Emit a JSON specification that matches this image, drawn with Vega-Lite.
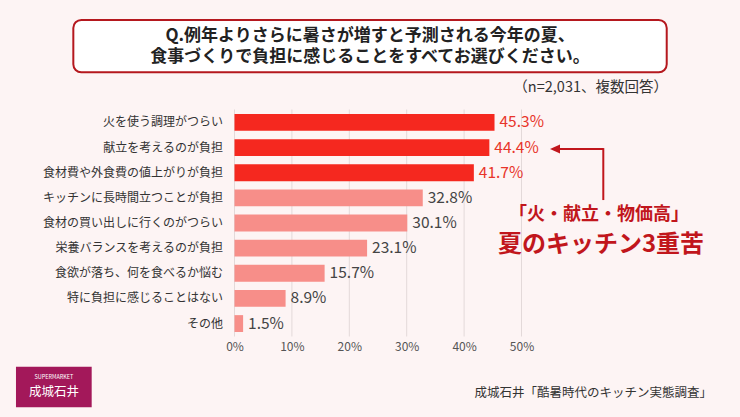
{
  "$schema": "https://vega.github.io/schema/vega-lite/v6.json",
  "width": 287,
  "height": 227,
  "autosize": {"type": "none"},
  "padding": {"left": 234.5, "top": 109.5, "right": 218.5, "bottom": 80.5},
  "background": "#fdf4f4",
  "config": {
    "view": {"stroke": null},
    "font": "Noto Sans CJK JP",
    "text": {"font": "Noto Sans CJK JP"},
    "axis": {"labelFont": "Noto Sans CJK JP"}
  },
  "datasets": {
    "answers": [
      {"item": "火を使う調理がつらい", "share": 0.453},
      {"item": "献立を考えるのが負担", "share": 0.444},
      {"item": "食材費や外食費の値上がりが負担", "share": 0.417},
      {"item": "キッチンに長時間立つことが負担", "share": 0.328},
      {"item": "食材の買い出しに行くのがつらい", "share": 0.301},
      {"item": "栄養バランスを考えるのが負担", "share": 0.231},
      {"item": "食欲が落ち、何を食べるか悩む", "share": 0.157},
      {"item": "特に負担に感じることはない", "share": 0.089},
      {"item": "その他", "share": 0.015}
    ],
    "gridlines": [
      {"tick": 0}, {"tick": 0.1}, {"tick": 0.2}, {"tick": 0.3}, {"tick": 0.4}, {"tick": 0.5}
    ]
  },
  "layer": [
    {
      "data": {"values": [{}]},
      "layer": [
        {
          "data": {"name": "gridlines"},
          "mark": {"type": "rule", "color": "#e3d9d9", "strokeWidth": 1},
          "encoding": {
            "x": {"field": "tick", "type": "quantitative"},
            "y": {"datum": 0, "type": "quantitative", "axis": null, "scale": {"domain": [0, 9], "reverse": true, "nice": false, "zero": false}},
            "y2": {"datum": 9}
          }
        },
        {
          "mark": {"type": "rect", "cornerRadius": 8, "fill": "#ffffff", "stroke": "#b5181e", "strokeWidth": 2},
          "encoding": {
            "x": {"datum": -0.2808, "type": "quantitative"},
            "x2": {"datum": 0.753},
            "y": {"datum": -3.55, "type": "quantitative", "axis": null},
            "y2": {"datum": -1.475}
          }
        },
        {
          "mark": {"type": "text", "align": "center", "baseline": "middle", "fontSize": 17, "fontWeight": "bold", "color": "#222222"},
          "encoding": {
            "x": {"datum": 0.2361, "type": "quantitative"},
            "y": {"datum": -2.9, "type": "quantitative", "axis": null},
            "text": {"value": "Q.例年よりさらに暑さが増すと予測される今年の夏、"}
          }
        },
        {
          "mark": {"type": "text", "align": "center", "baseline": "middle", "fontSize": 17, "fontWeight": "bold", "color": "#222222"},
          "encoding": {
            "x": {"datum": 0.2361, "type": "quantitative"},
            "y": {"datum": -2.08, "type": "quantitative", "axis": null},
            "text": {"value": "食事づくりで負担に感じることをすべてお選びください。"}
          }
        },
        {
          "mark": {"type": "text", "align": "right", "baseline": "middle", "fontSize": 14.5, "color": "#333333"},
          "encoding": {
            "x": {"datum": 0.7552, "type": "quantitative"},
            "y": {"datum": -0.852, "type": "quantitative", "axis": null},
            "text": {"value": "（n=2,031、複数回答）"}
          }
        },
        {
          "mark": {"type": "rule", "color": "#c1161c", "strokeWidth": 2},
          "encoding": {
            "x": {"datum": 0.5560, "type": "quantitative"},
            "x2": {"datum": 0.6425},
            "y": {"datum": 1.57, "type": "quantitative", "axis": null}
          }
        },
        {
          "mark": {"type": "rule", "color": "#c1161c", "strokeWidth": 2},
          "encoding": {
            "x": {"datum": 0.6425, "type": "quantitative"},
            "y": {"datum": 1.53, "type": "quantitative", "axis": null},
            "y2": {"datum": 3.59}
          }
        },
        {
          "mark": {"type": "point", "shape": "M-1,0L1,-0.9L1,0.9Z", "size": 100, "filled": true, "opacity": 1, "color": "#c1161c"},
          "encoding": {
            "x": {"datum": 0.5584, "type": "quantitative"},
            "y": {"datum": 1.57, "type": "quantitative", "axis": null}
          }
        },
        {
          "mark": {"type": "text", "align": "center", "baseline": "middle", "fontSize": 18, "fontWeight": "bold", "color": "#c1161c"},
          "encoding": {
            "x": {"datum": 0.635, "type": "quantitative"},
            "y": {"datum": 4.18, "type": "quantitative", "axis": null},
            "text": {"value": "「火・献立・物価高」"}
          }
        },
        {
          "mark": {"type": "text", "align": "center", "baseline": "middle", "fontSize": 24, "fontWeight": "bold", "color": "#c1161c"},
          "encoding": {
            "x": {"datum": 0.6385, "type": "quantitative"},
            "y": {"datum": 5.37, "type": "quantitative", "axis": null},
            "text": {"value": "夏のキッチン3重苦"}
          }
        },
        {
          "mark": {"type": "rect", "fill": "#a3185a"},
          "encoding": {
            "x": {"datum": -0.3807, "type": "quantitative"},
            "x2": {"datum": -0.2488},
            "y": {"datum": 10.2, "type": "quantitative", "axis": null},
            "y2": {"datum": 11.81}
          }
        },
        {
          "mark": {"type": "text", "align": "center", "baseline": "middle", "fontSize": 5.5, "color": "#ffffff"},
          "encoding": {
            "x": {"datum": -0.3145, "type": "quantitative"},
            "y": {"datum": 10.62, "type": "quantitative", "axis": null},
            "text": {"value": "SUPERMARKET"}
          }
        },
        {
          "mark": {"type": "text", "align": "center", "baseline": "middle", "fontSize": 12.5, "color": "#ffffff"},
          "encoding": {
            "x": {"datum": -0.3145, "type": "quantitative"},
            "y": {"datum": 11.2, "type": "quantitative", "axis": null},
            "text": {"value": "成城石井"}
          }
        },
        {
          "mark": {"type": "text", "align": "right", "baseline": "middle", "fontSize": 12.5, "color": "#333333"},
          "encoding": {
            "x": {"datum": 0.8319, "type": "quantitative"},
            "y": {"datum": 11.24, "type": "quantitative", "axis": null},
            "text": {"value": "成城石井「酷暑時代のキッチン実態調査」"}
          }
        }
      ]
    },
    {
      "data": {"name": "answers"},
      "layer": [
        {
          "mark": {"type": "bar"},
          "encoding": {
            "y": {
              "field": "item", "type": "nominal", "sort": null, "title": null,
              "scale": {"paddingInner": 0.33, "paddingOuter": 0.18},
              "axis": {"domain": false, "ticks": false, "labelPadding": 12, "labelFontSize": 12, "labelColor": "#333333", "labelLimit": 220}
            },
            "x": {
              "field": "share", "type": "quantitative", "title": null,
              "scale": {"domain": [0, 0.5], "nice": false},
              "axis": {"format": ".0%", "values": [0, 0.1, 0.2, 0.3, 0.4, 0.5], "grid": false, "labelFlush": false, "domain": false, "ticks": false, "labelPadding": 5, "labelFontSize": 12, "labelColor": "#555555"}
            },
            "color": {"condition": {"test": "datum.share >= 0.4", "value": "#f5281f"}, "value": "#f78e89"}
          }
        },
        {
          "mark": {"type": "text", "align": "left", "baseline": "middle", "dx": 5, "fontSize": 15.5},
          "encoding": {
            "y": {"field": "item", "type": "nominal", "sort": null},
            "x": {"field": "share", "type": "quantitative"},
            "text": {"field": "share", "type": "quantitative", "format": ".1%"},
            "color": {"condition": {"test": "datum.share >= 0.4", "value": "#e8342a"}, "value": "#444444"}
          }
        }
      ]
    }
  ],
  "resolve": {"scale": {"y": "independent"}}
}
